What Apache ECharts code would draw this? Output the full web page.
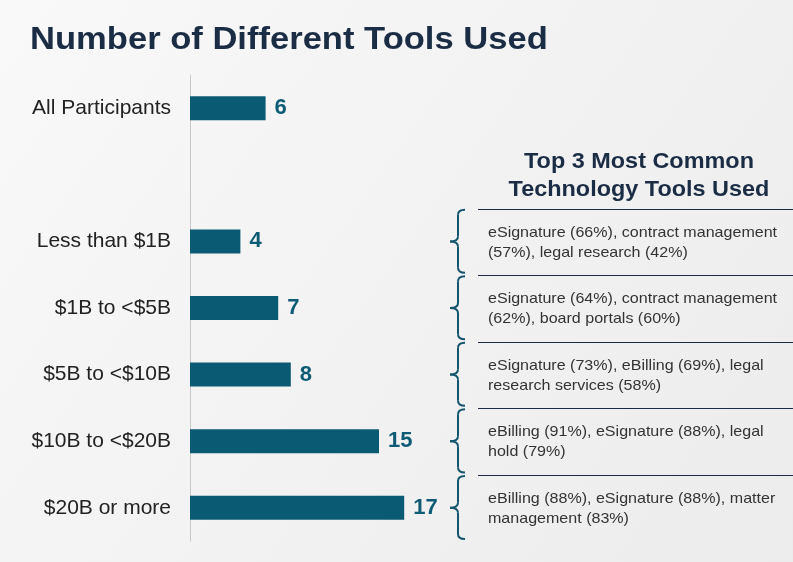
<!DOCTYPE html>
<html><head><meta charset="utf-8">
<script src="https://cdn.jsdelivr.net/npm/echarts@6/dist/echarts.min.js"></script>
<style>html,body{margin:0;padding:0;background:#f2f2f2}#c{width:793px;height:562px}</style>
</head><body><div id="c"></div>
<script>
var categories = ['All Participants', ' ', 'Less than $1B', '$1B to <$5B', '$5B to <$10B', '$10B to <$20B', '$20B or more'];
var toolCounts = [6, '-', 4, 7, 8, 15, 17];
var noteCategories = ['Less than $1B', '$1B to <$5B', '$5B to <$10B', '$10B to <$20B', '$20B or more'];
var noteTexts = [
  'eSignature (66%), contract management\n(57%), legal research (42%)',
  'eSignature (64%), contract management\n(62%), board portals (60%)',
  'eSignature (73%), eBilling (69%), legal\nresearch services (58%)',
  'eBilling (91%), eSignature (88%), legal\nhold (79%)',
  'eBilling (88%), eSignature (88%), matter\nmanagement (83%)'
];
var titleText = 'Number of Different Tools Used';
var panelTitle = 'Top 3 Most Common\nTechnology Tools Used';

var FONT = '"Liberation Sans", Arial, sans-serif';
var chart = echarts.init(document.getElementById('c'));
var navy = '#1b2d45', teal = '#0b5a73';

chart.setOption({
  backgroundColor: new echarts.graphic.LinearGradient(0, 0, 1, 1, [
    {offset: 0, color: '#f9f9f9'}, {offset: 0.5, color: '#f2f2f2'}, {offset: 1, color: '#ececec'}
  ]),
  animation: false,
  graphic: [
    {type: 'text', x: 30, y: 40, scaleX: 1.08, style: {text: titleText, font: 'bold 32px ' + FONT, fill: navy, verticalAlign: 'middle'}},
    {type: 'text', x: 639, y: 176, scaleX: 1.065, style: {text: panelTitle, font: 'bold 22px ' + FONT, fill: navy, align: 'center', verticalAlign: 'middle', lineHeight: 28}}
  ],
  grid: {left: 190, top: 75, width: 252, height: 466, containLabel: false},
  xAxis: {type: 'value', min: 0, max: 20, show: false},
  yAxis: {
    type: 'category', data: categories, inverse: true,
    axisLine: {show: true, lineStyle: {color: '#c8c8c8', width: 1}},
    axisTick: {show: false},
    axisLabel: {fontSize: 21, color: '#222', margin: 19, fontFamily: FONT}
  },
  series: [
    {
      type: 'bar', data: toolCounts, barWidth: 24,
      itemStyle: {color: teal},
      label: {show: true, position: 'right', distance: 9, fontSize: 22, fontWeight: 'bold', color: '#0d5b74', fontFamily: FONT}
    },
    {
      type: 'custom', clip: false, silent: true,
      data: noteCategories.map(function (c) { return [0, c]; }),
      encode: {x: 0, y: 1},
      renderItem: function (params, api) {
        var p = api.coord([0, api.value(1)]);
        var band = api.size([0, 1])[1];
        var cy = p[1];
        var top = cy - band / 2 + 0.5, bot = cy + band / 2 - 2;
        var bx = 458, hook = 465, tip = 450, r = 5;
        var s = {stroke: '#13556d', lineWidth: 2, fill: null};
        return {
          type: 'group',
          children: [
            {type: 'line', shape: {x1: 478, y1: Math.round(top) + 0.5, x2: 793, y2: Math.round(top) + 0.5}, style: {stroke: navy, lineWidth: 1}},
            {type: 'bezierCurve', shape: {x1: hook, y1: top + 1, cpx1: bx, cpy1: top + 1, x2: bx, y2: top + 1 + r}, style: s},
            {type: 'line', shape: {x1: bx, y1: top + 1 + r, x2: bx, y2: cy - r}, style: s},
            {type: 'bezierCurve', shape: {x1: bx, y1: cy - r, cpx1: bx, cpy1: cy, x2: tip, y2: cy}, style: s},
            {type: 'bezierCurve', shape: {x1: tip, y1: cy, cpx1: bx, cpy1: cy, x2: bx, y2: cy + r}, style: s},
            {type: 'line', shape: {x1: bx, y1: cy + r, x2: bx, y2: bot - r}, style: s},
            {type: 'bezierCurve', shape: {x1: bx, y1: bot - r, cpx1: bx, cpy1: bot, x2: hook, y2: bot}, style: s},
            {type: 'text', x: 488, y: cy + 1, scaleX: 1.07, style: {text: noteTexts[params.dataIndex], x: 0, y: 0, font: '15px ' + FONT, fill: '#333', verticalAlign: 'middle', lineHeight: 20}}
          ]
        };
      }
    }
  ]
});
</script></body></html>
